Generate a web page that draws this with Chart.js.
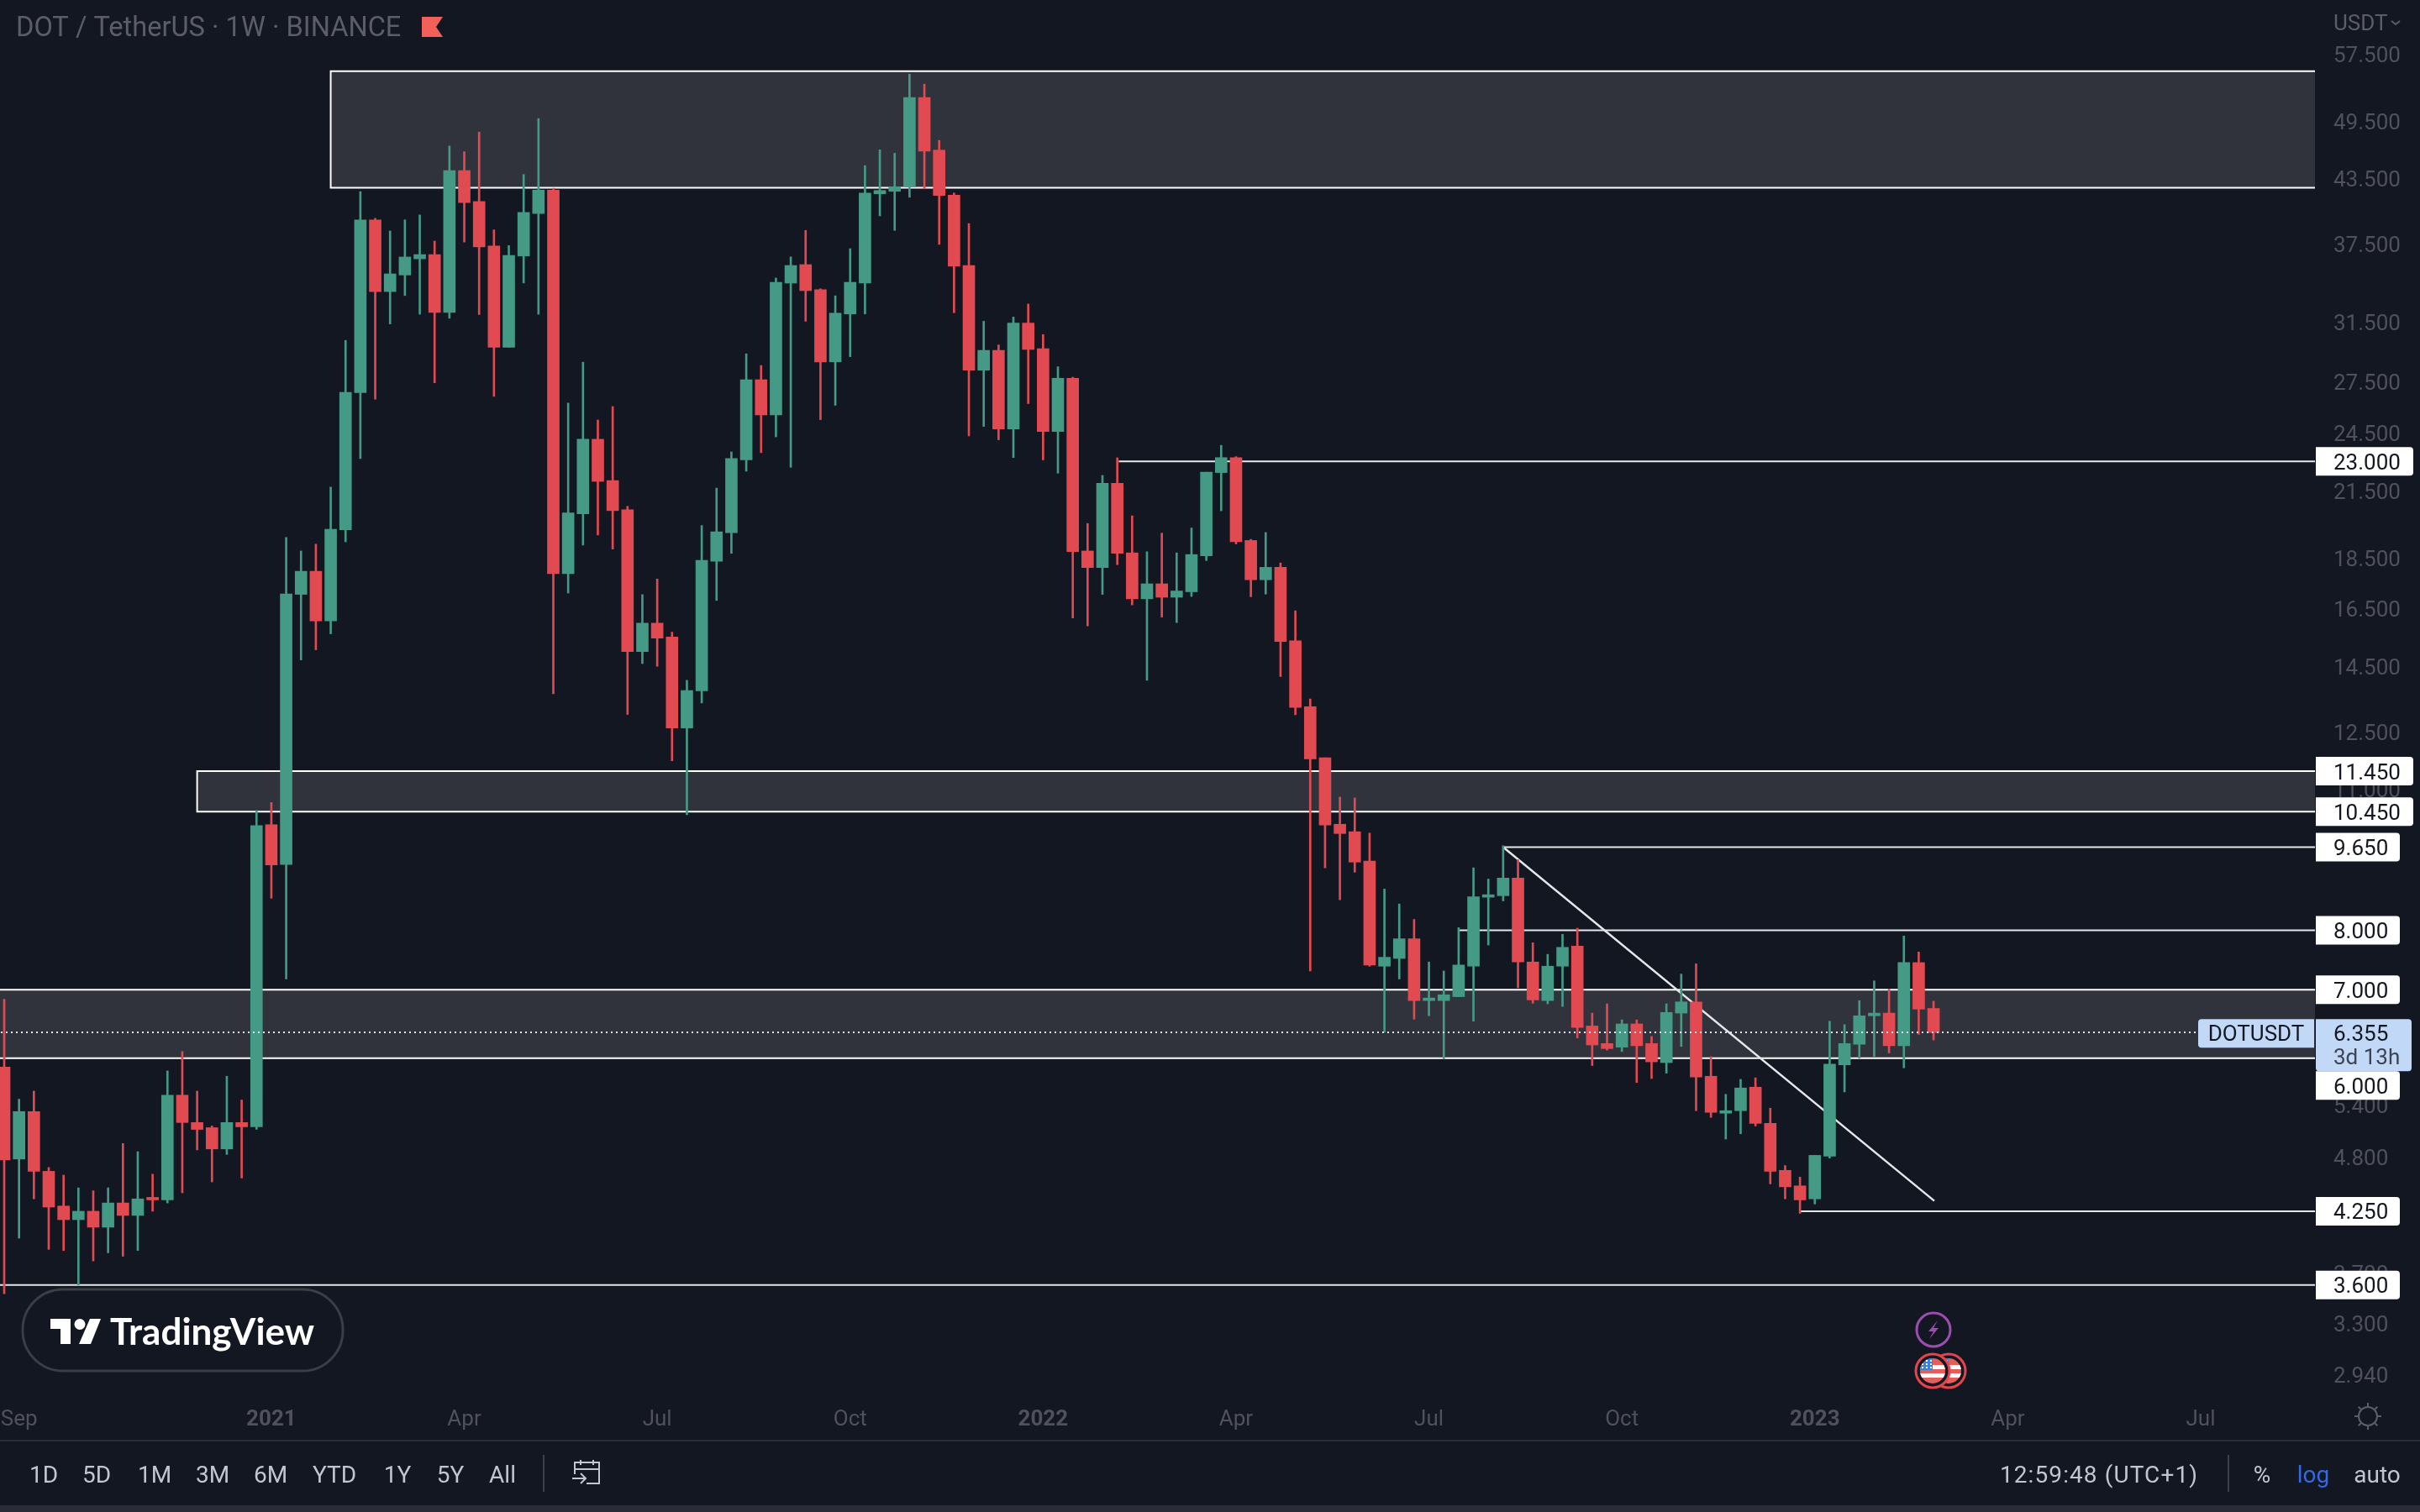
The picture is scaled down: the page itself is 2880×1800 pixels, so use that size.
<!DOCTYPE html>
<html><head><meta charset="utf-8">
<style>html,body{margin:0;padding:0;background:#131722}canvas{display:block}</style>
<script src="https://cdn.jsdelivr.net/npm/chart.js@4"></script>
</head><body><canvas id="c" width="2880" height="1800" style="width:2880px;height:1800px"></canvas>
<script>
const opens=[5.88,4.78,5.32,4.65,4.30,4.17,4.25,4.10,4.33,4.21,4.375,4.36,5.52,5.19,5.13,4.89,5.19,5.14,10.15,9.28,17.05,17.96,16.06,19.72,26.85,39.63,33.72,35.0,36.3,36.65,32.17,44.28,41.3,37.37,29.75,36.53,40.2,42.38,17.86,20.44,24.18,22.03,20.63,14.99,15.98,15.49,12.62,13.72,18.37,19.59,23.08,27.65,25.54,34.37,35.83,33.86,28.78,32.06,34.37,42.02,42.26,42.7,52.2,46.37,41.9,35.76,28.25,29.54,24.75,31.41,29.65,24.6,27.74,18.8,18.11,21.9,18.72,16.88,17.46,16.94,17.15,18.6,22.43,23.2,19.25,17.62,18.12,15.36,13.24,11.8,10.16,9.99,9.35,7.38,7.51,7.85,6.83,6.83,6.89,7.38,8.62,8.65,9.0,7.45,6.83,7.38,7.72,6.45,6.2,6.15,6.48,6.2,5.94,6.64,6.81,5.76,5.30,5.33,5.62,5.18,4.66,4.5,4.37,4.81,5.91,6.19,6.6,6.64,6.17,7.44,6.71];
const highs=[6.85,5.47,5.57,4.69,4.61,4.48,4.45,4.48,4.95,4.86,4.62,5.83,6.09,5.57,5.15,5.76,5.46,10.48,10.67,19.38,18.80,19.09,21.71,30.21,42.24,39.77,38.65,39.63,40.07,37.78,46.80,46.2,48.29,38.75,37.4,43.89,49.78,42.55,26.23,28.76,25.25,26.03,20.79,17.04,17.65,15.66,14.05,19.91,21.66,23.50,29.31,28.55,34.77,36.46,38.7,33.93,33.4,37.14,44.78,46.4,46.04,55.03,53.8,47.4,42.1,39.3,31.54,29.9,31.84,32.79,30.61,28.47,27.8,20.0,22.29,23.19,20.35,18.77,19.57,18.72,19.8,22.45,23.85,23.25,19.3,19.6,18.3,16.43,13.47,11.8,10.8,10.78,9.96,8.78,8.49,8.2,7.45,7.3,8.05,9.21,8.98,9.68,9.38,7.78,7.58,7.93,8.04,6.64,6.78,6.54,6.54,6.3,6.78,7.25,7.42,6.02,5.53,5.72,5.74,5.36,4.71,4.59,4.82,6.52,6.47,6.83,7.14,7.01,7.9,7.62,6.82];
const lows=[3.53,4.00,4.37,3.90,3.89,3.60,3.80,3.87,3.84,3.89,4.25,4.33,4.43,4.88,4.54,4.83,4.58,5.11,8.60,7.17,14.71,15.05,15.60,19.19,23.15,26.46,31.35,33.42,32.04,27.46,31.75,37.7,32.02,26.63,29.75,34.38,32.04,13.63,17.10,19.05,19.49,18.88,13.01,14.59,14.50,11.72,10.38,13.35,16.82,18.7,22.5,23.46,24.31,22.7,31.54,25.27,26.1,29.12,32.06,39.99,38.7,41.7,42.5,37.5,32.15,24.36,24.89,24.15,23.2,26.2,23.08,22.4,16.17,15.88,17.05,18.23,16.65,14.05,16.2,16.0,16.97,18.4,20.58,19.1,16.96,17.06,14.17,13.0,7.30,9.21,8.57,9.12,7.38,6.36,7.17,6.55,6.6,5.99,6.89,6.52,7.74,8.55,7.03,6.79,6.78,6.74,6.28,5.90,6.11,6.09,5.68,5.73,5.8,6.16,5.33,5.25,5.0,5.06,5.15,4.52,4.37,4.23,4.32,4.79,5.56,6.0,6.02,6.07,5.87,6.33,6.25];
const closes=[4.77,5.32,4.65,4.29,4.17,4.25,4.10,4.33,4.21,4.37,4.36,5.52,5.19,5.11,4.89,5.19,5.14,10.13,9.27,17.07,17.96,16.06,19.74,26.87,39.63,33.72,35.09,36.45,36.65,32.17,44.28,41.2,37.29,29.75,36.57,40.3,42.38,17.86,20.48,24.18,21.99,20.59,14.99,15.98,15.45,12.62,13.73,18.41,19.63,23.15,27.65,25.54,34.43,35.76,33.79,28.78,32.12,34.43,42.1,42.34,42.7,52.2,46.27,41.87,35.7,28.25,29.54,24.75,31.41,29.6,24.6,27.74,18.77,18.11,21.9,18.7,16.88,17.46,16.94,17.18,18.65,22.45,23.2,19.2,17.62,18.12,15.33,13.22,11.77,10.14,9.95,9.33,7.40,7.53,7.85,6.83,6.87,6.92,7.40,8.63,8.66,9.0,7.45,6.84,7.38,7.70,6.43,6.18,6.13,6.48,6.17,5.95,6.65,6.81,5.75,5.31,5.33,5.61,5.18,4.65,4.49,4.36,4.82,5.92,6.20,6.6,6.64,6.17,7.44,6.7,6.355];
const timeTickWeeks=[1,18,31,44,57,70,83,96,109,122,135,148];
const timeTickLabels=['Sep','2021','Apr','Jul','Oct','2022','Apr','Jul','Oct','2023','Apr','Jul'];
const boldTimeTicks=['2021','2022','2023'];
const priceTicks=[57.5,49.5,43.5,37.5,31.5,27.5,24.5,21.5,18.5,16.5,14.5,12.5,11,5.4,4.8,3.7,3.3,2.94];
const priceTags=[23,11.45,10.45,9.65,8,7,6,4.25,3.6];
const lastPrice=6.355;
const zoneTop=[55.4,11.45,7];
const zoneBottom=[42.6,10.45,6];
const zoneStartWeek=[22,13,-1];
const levelPrice=[23,9.65,8,4.25,3.6];
const levelStartWeek=[75.1,101,98,121,-1];
const trendWeeks=[101,130.05];
const trendPrices=[9.65,4.35];
const rangeButtons=['1D','5D','1M','3M','6M','YTD','1Y','5Y','All'];
const rangeButtonX=[52,115,184,253,322,398,473,536,598];

const GREEN='#459a85',RED='#e24a52',BG='#131722';
const XMIN=-0.283,XMAX=155.7,YMIN=2.8135,YMAX=65.02;
const idx=closes.map((_,i)=>i);
const col=idx.map(i=>closes[i]>=opens[i]?GREEN:RED);
const F='Roboto, sans-serif';

const levelSets=levelPrice.map((p,k)=>({type:'line',order:5,data:[{x:levelStartWeek[k],y:p},{x:XMAX,y:p}],borderColor:'#e6e7e9',borderWidth:2,pointRadius:0,tension:0}));
const trendSet={type:'line',order:5,data:trendWeeks.map((w,k)=>({x:w,y:trendPrices[k]})),borderColor:'#e6e7e9',borderWidth:2.5,pointRadius:0,tension:0};
const wickSet={type:'bar',order:2,grouped:false,barThickness:2,data:idx.map(i=>({x:i,y:[lows[i],highs[i]]})),backgroundColor:col,borderWidth:0};
const bodySet={type:'bar',order:1,grouped:false,barThickness:14,minBarLength:3,data:idx.map(i=>({x:i,y:[Math.min(opens[i],closes[i]),Math.max(opens[i],closes[i])]})),backgroundColor:col,borderWidth:0};

function rr(c,x,y,w,h,r){c.beginPath();c.roundRect(x,y,w,h,r);}
const zonePlugin={id:'zones',beforeDatasetsDraw(ch){
  const c=ch.ctx,X=ch.scales.x,Y=ch.scales.y,a=ch.chartArea;
  c.save();c.beginPath();c.rect(a.left,a.top,a.right-a.left,a.bottom-a.top);c.clip();
  zoneTop.forEach((t,k)=>{
    const x0=X.getPixelForValue(zoneStartWeek[k]),y0=Y.getPixelForValue(t),y1=Y.getPixelForValue(zoneBottom[k]);
    c.fillStyle='#30333b';c.fillRect(x0,y0,a.right-x0,y1-y0);
    c.strokeStyle='#ffffff';c.lineWidth=2;
    c.beginPath();c.moveTo(a.right,y0);c.lineTo(x0,y0);c.lineTo(x0,y1);c.lineTo(a.right,y1);c.stroke();
  });
  c.restore();
},afterDatasetsDraw(ch){
  const c=ch.ctx,Y=ch.scales.y;
  const y=Math.round(Y.getPixelForValue(lastPrice));
  c.save();c.fillStyle='#dfe8f7';
  for(let x=1;x<2612;x+=6){c.fillRect(x,y-1,2,2);}
  c.restore();
},afterDraw(ch){
  const c=ch.ctx,Y=ch.scales.y;
  c.save();
  c.textBaseline='middle';
  // header
  c.textAlign='left';c.fillStyle='#5c5d67';c.font='400 32.6px '+F;
  c.fillText('DOT / TetherUS · 1W · BINANCE',19,35);
  c.fillStyle='#f2605a';c.beginPath();c.moveTo(502,20);c.lineTo(527,20);c.lineTo(519,32);c.lineTo(527,44);c.lineTo(502,44);c.closePath();c.fill();
  // USDT
  c.fillStyle='#5c5d67';c.font='400 26px '+F;c.fillText('USDT',2777,29);
  c.strokeStyle='#5c5d67';c.lineWidth=2;c.beginPath();c.moveTo(2846,25);c.lineTo(2851,29);c.lineTo(2856,25);c.stroke();
  // tags
  const ly=Y.getPixelForValue(lastPrice);
  priceTags.forEach(p=>{
    // a tag that would run under the last-price tag is pushed just below it
    let y=Y.getPixelForValue(p);
    if(y>ly&&y-17<ly+46)y=ly+46+17;
    const lab=p.toFixed(3),w=lab.length>5?116:100;
    c.fillStyle='#ffffff';rr(c,2756,y-17,w,34,[0,4,4,0]);c.fill();
    c.fillStyle='#131722';c.font='400 26px '+F;c.fillText(lab,2777,y+3);
  });
  c.fillStyle='#c1d9f7';rr(c,2756,ly-16,114,62,[0,4,4,4]);c.fill();
  rr(c,2616,ly-16,138,34,[4,0,0,4]);c.fill();
  c.fillStyle='#131722';c.font='400 26px '+F;c.fillText(lastPrice.toFixed(3),2777,ly+3);
  c.textAlign='center';c.fillText('DOTUSDT',2685,ly+3);c.textAlign='left';
  c.fillStyle='#3d4350';c.fillText('3d 13h',2777,ly+31);
  // separators / bottom bar
  c.fillStyle='#2a2d37';c.fillRect(0,1714,2880,2);c.fillRect(0,1792,2880,8);
  c.fillStyle='#3d4049';c.fillRect(646,1732,2,44);c.fillRect(2651,1732,2,44);
  c.fillStyle='#c3c6cf';c.font='400 28px '+F;c.textAlign='center';
  rangeButtons.forEach((t,i)=>c.fillText(t,rangeButtonX[i],1758));
  c.letterSpacing='1.1px';c.fillText('12:59:48 (UTC+1)',2498,1758);c.letterSpacing='0px';
  c.fillText('%',2692,1758);c.fillText('auto',2829,1758);
  c.fillStyle='#3469e0';c.fillText('log',2753,1758);
  // calendar icon
  c.strokeStyle='#c3c6cf';c.lineWidth=2;c.beginPath();
  c.moveTo(684,1755);c.lineTo(684,1741);c.lineTo(713,1741);c.lineTo(713,1766);c.lineTo(698,1766);
  c.moveTo(684,1749);c.lineTo(713,1749);c.moveTo(691,1738);c.lineTo(691,1744);c.moveTo(706,1738);c.lineTo(706,1744);
  c.moveTo(681,1760);c.lineTo(697,1760);c.moveTo(691,1754);c.lineTo(697,1760);c.lineTo(691,1766);c.stroke();
  // sun icon
  c.strokeStyle='#5d5e68';c.lineWidth=2;c.beginPath();c.arc(2818,1686,11,0,7);c.stroke();
  for(let k=0;k<8;k++){const a=k*Math.PI/4;c.beginPath();c.moveTo(2818+Math.cos(a)*12,1686+Math.sin(a)*12);c.lineTo(2818+Math.cos(a)*16,1686+Math.sin(a)*16);c.stroke();}
  // TradingView pill
  c.fillStyle=BG;rr(c,27,1535,381,97,48);c.fill();
  c.strokeStyle='#3b3d47';c.lineWidth=3;c.stroke();
  c.fillStyle='#ffffff';c.beginPath();c.moveTo(60,1570);c.lineTo(84,1570);c.lineTo(84,1600);c.lineTo(72,1600);c.lineTo(72,1582);c.lineTo(60,1582);c.closePath();c.fill();
  c.beginPath();c.arc(95,1576.5,6.5,0,7);c.fill();
  c.beginPath();c.moveTo(107,1570);c.lineTo(120,1570);c.lineTo(108,1600);c.lineTo(94,1600);c.closePath();c.fill();
  c.textAlign='left';c.font='700 44px Lato, '+F;c.fillText('TradingView',131,1587);
  // event icons
  c.strokeStyle='#9c4db0';c.lineWidth=3;c.beginPath();c.arc(2301,1583,20,0,7);c.stroke();
  c.fillStyle='#9c4db0';c.beginPath();c.moveTo(2306,1572);c.lineTo(2295,1585);c.lineTo(2301,1585);c.lineTo(2296,1594);c.lineTo(2307,1581);c.lineTo(2301,1581);c.closePath();c.fill();
  [2319,2300].forEach(cx=>{
    c.save();c.beginPath();c.arc(cx,1632,20,0,7);c.fillStyle='#131722';c.fill();c.restore();
    c.save();c.beginPath();c.arc(cx,1632,15,0,7);c.clip();
    c.fillStyle='#e35f5a';c.fillRect(cx-16,1616,32,32);
    c.fillStyle='#ffffff';c.fillRect(cx-16,1625,32,5);c.fillRect(cx-16,1635,32,5);
    c.fillStyle='#3b82e0';c.fillRect(cx-16,1616,16,15);
    c.fillStyle='#ffffff';for(let a=0;a<3;a++)for(let b=0;b<3;b++)c.fillRect(cx-13+a*5,1619+b*4,2,2);
    c.restore();
    c.strokeStyle='#e6434b';c.lineWidth=3;c.beginPath();c.arc(cx,1632,20,0,7);c.stroke();
  });
  c.restore();
}};

new Chart(document.getElementById('c'),{
  type:'bar',
  data:{datasets:[bodySet,wickSet,trendSet,...levelSets]},
  plugins:[zonePlugin],
  options:{
    responsive:false,animation:false,devicePixelRatio:1,
    layout:{padding:0},
    plugins:{legend:{display:false},tooltip:{enabled:false}},
    scales:{
      x:{type:'linear',offset:false,min:XMIN,max:XMAX,
        grid:{display:false,drawTicks:false},border:{display:false},
        afterBuildTicks:s=>{s.ticks=timeTickWeeks.map(v=>({value:v}));},
        afterFit:s=>{s.height=140;s.paddingLeft=0;s.paddingRight=0;},
        ticks:{autoSkip:false,maxRotation:0,minRotation:0,padding:15,color:'#50515b',
          font:ctx=>({family:F,size:26,weight:(ctx.tick&&boldTimeTicks.includes(timeTickLabels[timeTickWeeks.indexOf(ctx.tick.value)]))?'700':'400'}),
          callback:v=>timeTickLabels[timeTickWeeks.indexOf(v)]}},
      y:{type:'logarithmic',position:'right',min:YMIN,max:YMAX,
        grid:{display:false,drawTicks:false},border:{display:false},
        afterBuildTicks:s=>{s.ticks=priceTicks.map(v=>({value:v}));},
        afterFit:s=>{s.width=125;s.paddingTop=0;s.paddingBottom=0;},
        ticks:{autoSkip:false,padding:22,crossAlign:'near',labelOffset:3,color:'#50515b',font:{family:F,size:26},
          callback:v=>Number(v).toFixed(3)}}
    }
  }
});
</script></body></html>
